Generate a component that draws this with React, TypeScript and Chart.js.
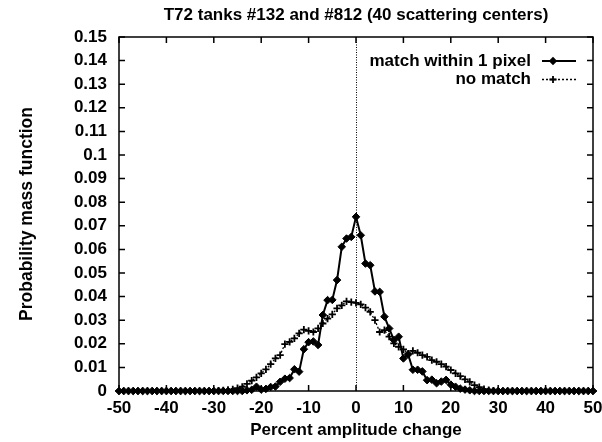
import React, { useEffect, useRef } from "react";
import { Chart, registerables } from "chart.js";

Chart.register(...registerables);

const TITLE = "T72 tanks #132 and #812 (40 scattering centers)";
const X_TITLE = "Percent amplitude change";
const Y_TITLE = "Probability mass function";
const LEGEND_MATCH = "match within 1 pixel";
const LEGEND_NOMATCH = "no match";

const xValues = [
  -50, -49, -48, -47, -46, -45, -44, -43, -42, -41,
  -40, -39, -38, -37, -36, -35, -34, -33, -32, -31,
  -30, -29, -28, -27, -26, -25, -24, -23, -22, -21,
  -20, -19, -18, -17, -16, -15, -14, -13, -12, -11,
  -10, -9, -8, -7, -6, -5, -4, -3, -2, -1,
  0, 1, 2, 3, 4, 5, 6, 7, 8, 9,
  10, 11, 12, 13, 14, 15, 16, 17, 18, 19,
  20, 21, 22, 23, 24, 25, 26, 27, 28, 29,
  30, 31, 32, 33, 34, 35, 36, 37, 38, 39,
  40, 41, 42, 43, 44, 45, 46, 47, 48, 49,
  50,
];

// match within 1 pixel (x = -50 .. 50)
const matchWithin1Pixel = [
  0, 0, 0, 0, 0, 0, 0, 0, 0, 0,
  0, 0, 0, 0, 0, 0, 0, 0, 0, 0,
  0, 0, 0, 0, 0, 0, 0, 0.0003, 0.0005, 0.0018,
  0.0006, 0.0009, 0.0017, 0.0019, 0.0039, 0.0052, 0.0055, 0.0092, 0.0082, 0.0177,
  0.0207, 0.021, 0.0195, 0.0322, 0.0385, 0.0386, 0.047, 0.0611, 0.0646, 0.0653,
  0.0738, 0.066, 0.054, 0.0533, 0.0422, 0.042, 0.0315, 0.0265, 0.0216, 0.023,
  0.0138, 0.0155, 0.009, 0.009, 0.0083, 0.0046, 0.0048, 0.0033, 0.004, 0.0047,
  0.0027, 0.0018, 0.001, 0.0006, 0.0003, 0, 0, 0, 0, 0,
  0, 0, 0, 0, 0, 0, 0, 0, 0, 0,
  0, 0, 0, 0, 0, 0, 0, 0, 0, 0,
  0,
];

// no match (x = -50 .. 50)
const noMatch = [
  0, 0, 0, 0, 0, 0, 0, 0, 0, 0,
  0, 0, 0, 0, 0, 0, 0, 0, 0, 0,
  0, 0.0002, 0.0003, 0.0005, 0.0007, 0.0012, 0.0018, 0.003, 0.0044, 0.0058,
  0.0075, 0.0092, 0.0114, 0.0138, 0.0152, 0.0199, 0.0208, 0.0223, 0.0244, 0.026,
  0.0255, 0.025, 0.0265, 0.0286, 0.0307, 0.0325, 0.035, 0.0363, 0.038, 0.0377,
  0.0373, 0.0367, 0.0353, 0.0335, 0.03, 0.025, 0.0258, 0.023, 0.0202, 0.0187,
  0.0176, 0.0159, 0.017, 0.0162, 0.0152, 0.0145, 0.0131, 0.0124, 0.0114, 0.0103,
  0.0089, 0.0075, 0.0063, 0.0049, 0.0039, 0.0025, 0.0016, 0.0008, 0.0004, 0.0002,
  0, 0, 0, 0, 0, 0, 0, 0, 0, 0,
  0, 0, 0, 0, 0, 0, 0, 0, 0, 0,
  0,
];

const xTicks = [-50, -40, -30, -20, -10, 0, 10, 20, 30, 40, 50];
const yTicks = [
  0, 0.01, 0.02, 0.03, 0.04, 0.05, 0.06, 0.07, 0.08, 0.09,
  0.1, 0.11, 0.12, 0.13, 0.14, 0.15,
];

const FAMILY = '"Liberation Sans", Arial, Helvetica, sans-serif';
const FONT_SIZE = 17;
const CSS_FONT = `bold ${FONT_SIZE}px ${FAMILY}`;
const CSS_FONT_YTITLE = `bold 17.5px ${FAMILY}`;

function drawDiamond(ctx: CanvasRenderingContext2D, x: number, y: number, r: number) {
  ctx.beginPath();
  ctx.moveTo(x, y - r);
  ctx.lineTo(x + r, y);
  ctx.lineTo(x, y + r);
  ctx.lineTo(x - r, y);
  ctx.closePath();
  ctx.fill();
}

function drawPlus(ctx: CanvasRenderingContext2D, x: number, y: number, r: number) {
  ctx.beginPath();
  ctx.moveTo(x - r, y);
  ctx.lineTo(x + r, y);
  ctx.moveTo(x, y - r);
  ctx.lineTo(x, y + r);
  ctx.stroke();
}

const decorPlugin = {
  id: "gnuplotDecor",
  afterDatasetsDraw(chart: any) {
    const ctx: CanvasRenderingContext2D = chart.ctx;
    const area = chart.chartArea;
    const xs = chart.scales.x;
    const ys = chart.scales.y;
    ctx.save();
    ctx.strokeStyle = "#000";
    ctx.fillStyle = "#000";

    // zero axis (dotted)
    ctx.lineWidth = 1;
    ctx.setLineDash([1, 1.5]);
    const x0 = Math.round(xs.getPixelForValue(0)) + 0.5;
    ctx.beginPath();
    ctx.moveTo(x0, area.top);
    ctx.lineTo(x0, area.bottom);
    ctx.stroke();
    ctx.setLineDash([]);

    // border
    ctx.lineWidth = 1.5;
    ctx.strokeRect(area.left, area.top, area.right - area.left, area.bottom - area.top);

    // inward ticks
    const tl = 6;
    ctx.beginPath();
    for (const v of xTicks) {
      const px = xs.getPixelForValue(v);
      ctx.moveTo(px, area.bottom);
      ctx.lineTo(px, area.bottom - tl);
      ctx.moveTo(px, area.top);
      ctx.lineTo(px, area.top + tl);
    }
    for (const v of yTicks) {
      const py = ys.getPixelForValue(v);
      ctx.moveTo(area.left, py);
      ctx.lineTo(area.left + tl, py);
      ctx.moveTo(area.right, py);
      ctx.lineTo(area.right - tl, py);
    }
    ctx.stroke();

    // texts
    ctx.font = CSS_FONT;
    ctx.textBaseline = "middle";
    ctx.textAlign = "center";
    const cx = (area.left + area.right) / 2;
    ctx.fillText(TITLE, cx, 15);
    ctx.fillText(X_TITLE, cx, 430);

    ctx.save();
    ctx.font = CSS_FONT_YTITLE;
    ctx.translate(27, (area.top + area.bottom) / 2);
    ctx.rotate(-Math.PI / 2);
    ctx.fillText(Y_TITLE, 0, 0);
    ctx.restore();

    // legend
    ctx.textAlign = "right";
    const ly1 = 61;
    const ly2 = 79.5;
    const tx = 531;
    ctx.fillText(LEGEND_MATCH, tx, ly1);
    ctx.fillText(LEGEND_NOMATCH, tx, ly2);
    const l0 = 542;
    const l1 = 576;
    const mx = 553;
    ctx.lineWidth = 1.8;
    ctx.beginPath();
    ctx.moveTo(l0, ly1);
    ctx.lineTo(l1, ly1);
    ctx.stroke();
    drawDiamond(ctx, mx, ly1, 4.2);
    ctx.lineWidth = 1.3;
    ctx.setLineDash([2, 2]);
    ctx.beginPath();
    ctx.moveTo(l0, ly2);
    ctx.lineTo(l1, ly2);
    ctx.stroke();
    ctx.setLineDash([]);
    ctx.lineWidth = 1.8;
    drawPlus(ctx, mx, ly2, 3.6);

    ctx.restore();
  },
};

export default function App() {
  const canvasRef = useRef<HTMLCanvasElement | null>(null);

  useEffect(() => {
    document.body.style.margin = "0";
    const canvas = canvasRef.current;
    if (!canvas) return;

    const matchData = xValues.map((x, i) => ({ x, y: matchWithin1Pixel[i] }));
    const noMatchData = xValues.map((x, i) => ({ x, y: noMatch[i] }));

    const tickFont = { family: FAMILY, size: FONT_SIZE, weight: "bold" as const };

    const chart = new Chart(canvas, {
      type: "line",
      data: {
        datasets: [
          {
            label: LEGEND_MATCH,
            data: matchData,
            borderColor: "#000",
            backgroundColor: "#000",
            borderWidth: 2,
            pointStyle: "rectRot",
            pointRadius: 3.8,
            pointBorderWidth: 1,
            pointBackgroundColor: "#000",
            pointBorderColor: "#000",
            tension: 0,
            clip: false as any,
            order: 1,
          },
          {
            label: LEGEND_NOMATCH,
            data: noMatchData,
            borderColor: "#000",
            backgroundColor: "#000",
            borderWidth: 1.3,
            borderDash: [2, 2],
            pointStyle: "cross",
            pointRadius: 3.6,
            pointBorderWidth: 1.8,
            pointBorderColor: "#000",
            tension: 0,
            clip: false as any,
            order: 2,
          },
        ],
      },
      options: {
        responsive: false,
        animation: false,
        events: [],
        layout: { padding: { left: 0, right: 9, top: 37, bottom: 0 } },
        plugins: {
          legend: { display: false },
          title: { display: false },
          tooltip: { enabled: false },
        },
        scales: {
          x: {
            type: "linear",
            min: -50,
            max: 50,
            grid: { display: false, drawTicks: false },
            border: { display: false },
            afterBuildTicks: (s: any) => {
              s.ticks = xTicks.map((v) => ({ value: v }));
            },
            afterFit: (s: any) => {
              s.height = 51;
              s.paddingLeft = 0;
              s.paddingRight = 0;
            },
            ticks: {
              color: "#000",
              font: tickFont,
              padding: 7,
              maxRotation: 0,
              autoSkip: false,
              callback: (v: any) => String(v),
            },
          },
          y: {
            type: "linear",
            min: 0,
            max: 0.15,
            grid: { display: false, drawTicks: false },
            border: { display: false },
            afterBuildTicks: (s: any) => {
              s.ticks = yTicks.map((v) => ({ value: v }));
            },
            afterFit: (s: any) => {
              s.width = 119;
              s.paddingTop = 0;
              s.paddingBottom = 0;
            },
            ticks: {
              color: "#000",
              font: tickFont,
              padding: 12,
              autoSkip: false,
              callback: (v: any) => String(Number(Number(v).toFixed(2))),
            },
          },
        },
      },
      plugins: [decorPlugin],
    });

    return () => chart.destroy();
  }, []);

  return (
    <div style={{ position: "absolute", left: 0, top: 0, width: 602, height: 442, background: "#fff" }}>
      <canvas ref={canvasRef} width={602} height={442} style={{ width: 602, height: 442, display: "block" }} />
    </div>
  );
}
